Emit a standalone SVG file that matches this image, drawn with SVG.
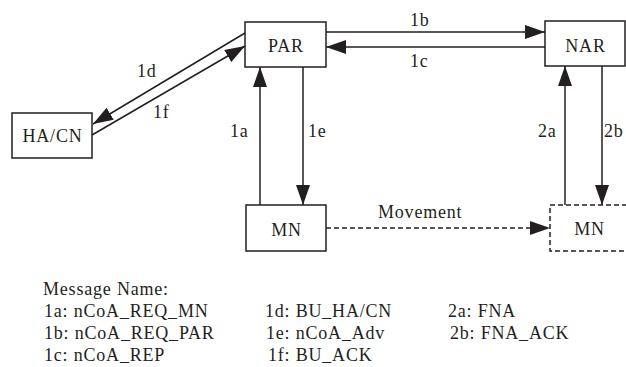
<svg xmlns="http://www.w3.org/2000/svg" width="626" height="367" viewBox="0 0 626 367">
<style>
.box{fill:#fff;stroke:#231f20;stroke-width:1.5}
.dash{stroke-dasharray:5 3}
.ln{fill:none;stroke:#231f20;stroke-width:1.5}
text{font-family:"Liberation Serif","Times New Roman",serif;font-size:18px;fill:#231f20;letter-spacing:0.8px}
.c{text-anchor:middle}
</style>
<defs>
<marker id="ah" markerUnits="userSpaceOnUse" markerWidth="20" markerHeight="14" refX="20" refY="7" orient="auto" viewBox="0 0 20 14">
<path d="M0,0 L20,7 L0,14 z" fill="#231f20"/>
</marker>
</defs>
<rect width="626" height="367" fill="#fff"/>
<g id="connectors">
<path class="ln" d="M326,32 H545" marker-end="url(#ah)"/>
<path class="ln" d="M545,47 H326" marker-end="url(#ah)"/>
<path class="ln" d="M245,33 L93,124" marker-end="url(#ah)"/>
<path class="ln" d="M92,135 L245,46" marker-end="url(#ah)"/>
<path class="ln" d="M260,205 V67" marker-end="url(#ah)"/>
<path class="ln" d="M303,67 V205" marker-end="url(#ah)"/>
<path class="ln" d="M565,205 V66" marker-end="url(#ah)"/>
<path class="ln" d="M602,66 V205" marker-end="url(#ah)"/>
<path class="ln dash" d="M326,228 H550" marker-end="url(#ah)"/>
<text x="410" y="26">1b</text>
<text x="410" y="67">1c</text>
<text x="137" y="77">1d</text>
<text x="153" y="118">1f</text>
<text x="230" y="137">1a</text>
<text x="308" y="137">1e</text>
<text x="538" y="137">2a</text>
<text x="604" y="137">2b</text>
<text x="378" y="218">Movement</text>
</g>
<g id="PAR"><rect class="box" x="245" y="22" width="81" height="45"/><text class="c" x="286" y="52">PAR</text></g>
<g id="NAR"><rect class="box" x="545" y="21" width="80" height="45"/><text class="c" x="585.5" y="51.5">NAR</text></g>
<g id="HACN"><rect class="box" x="12" y="113" width="80" height="45"/><text class="c" x="52.5" y="142">HA/CN</text></g>
<g id="MN"><rect class="box" x="246" y="205" width="80" height="46"/><text class="c" x="286.5" y="236">MN</text></g>
<g id="MN2"><rect class="box dash" x="550" y="205" width="82" height="46"/><text class="c" x="589.5" y="235">MN</text></g>
<g id="legend">
<text x="43" y="295">Message Name:</text>
<text x="44" y="317">1a: nCoA_REQ_MN</text>
<text x="44" y="339">1b: nCoA_REQ_PAR</text>
<text x="44" y="361">1c: nCoA_REP</text>
<text x="265" y="317">1d: BU_HA/CN</text>
<text x="266" y="339">1e: nCoA_Adv</text>
<text x="268" y="361">1f: BU_ACK</text>
<text x="448" y="317">2a: FNA</text>
<text x="450" y="339">2b: FNA_ACK</text>
</g>
</svg>
